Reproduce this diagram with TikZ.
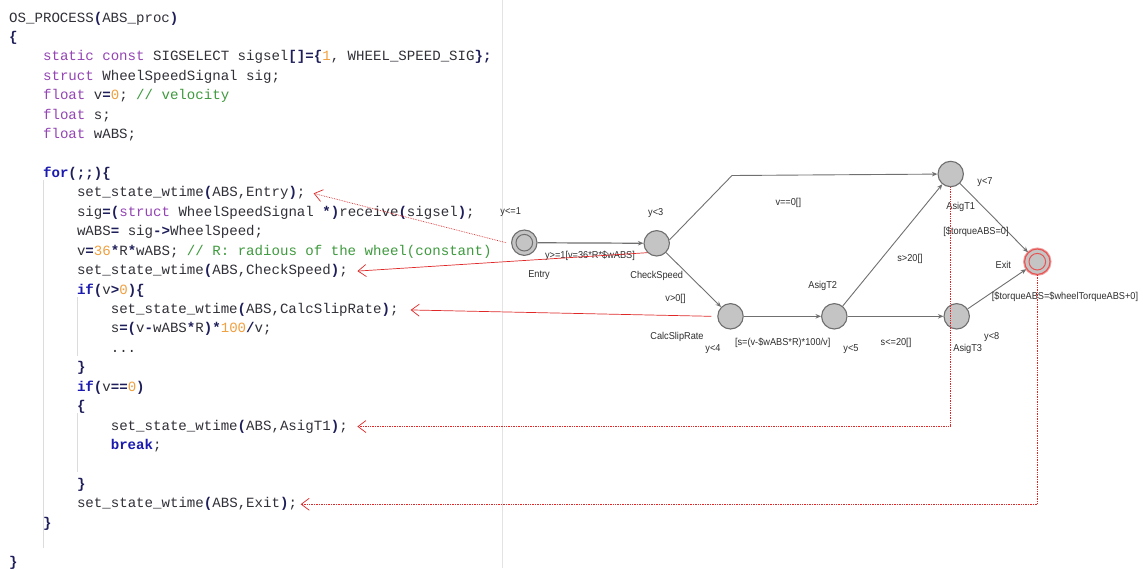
\documentclass[tikz,border=0pt]{standalone}
\usepackage{fontspec}
\setmainfont{Liberation Sans}
\newfontfamily\codefont{Liberation Mono}
\newfontfamily\lblfont[FakeStretch=0.92]{Liberation Sans}
\usetikzlibrary{arrows.meta}
\definecolor{kwc}{HTML}{9444B4}
\definecolor{ctc}{HTML}{1A1AB0}
\definecolor{numc}{HTML}{F0A040}
\definecolor{cmc}{HTML}{3E9A3E}
\definecolor{opc}{HTML}{1E1E5A}
\definecolor{idc}{HTML}{303038}
\definecolor{stfill}{HTML}{C4C4C4}
\definecolor{stdraw}{HTML}{6E6E6E}
\definecolor{edc}{HTML}{707070}
\definecolor{lblc}{HTML}{2E2E2E}
\definecolor{redc}{HTML}{E02828}
\definecolor{guide}{HTML}{DCDCDC}
\newcommand\ckw[1]{\textcolor{kwc}{#1}}
\newcommand\cct[1]{\textcolor{ctc}{\bfseries #1}}
\newcommand\cnum[1]{\textcolor{numc}{#1}}
\newcommand\ccom[1]{\textcolor{cmc}{#1}}
\newcommand\cop[1]{\textcolor{opc}{\bfseries #1}}
\newcommand\codeline[4]{\node[codest] (#1) at (#2,{22+19.43*#3}) {#4};}
\begin{document}
\begin{tikzpicture}[x=1pt,y=-1pt,
  codest/.style={anchor=base west,inner sep=0pt,text height=10pt,text depth=3pt,
    font=\codefont\fontsize{14.1}{17}\selectfont,text=idc},
  lbl/.style={font=\lblfont\fontsize{10}{12}\selectfont,text=lblc,inner sep=0pt},
  state/.style={circle,draw=stdraw,fill=stfill,line width=1.1pt,minimum size=25.4pt,inner sep=0pt},
  inring/.style={circle,draw=stdraw,line width=1pt,minimum size=16.6pt,inner sep=0pt},
  aedge/.style={draw=edc,line width=0.9pt,-{Stealth[length=5.5pt,width=4.5pt]}},
  redarr/.style={draw=redc,line width=0.7pt,-{Straight Barb[length=8pt,width=12pt]}},
  guideline/.style={draw=guide,line width=1pt}]
\useasboundingbox (0,0) rectangle (1143,568);
\fill[white] (0,0) rectangle (1143,568);
% separator and guide lines
\draw[draw=gray!22,line width=0.8pt] (502,0) -- (502,568);
\draw[guideline] (43,180) -- (43,548);
\draw[guideline] (77,297) -- (77,356);
\draw[guideline] (77,413) -- (77,472);
% code
\codeline{c0}{9}{0}{OS\_PROCESS\cop{(}ABS\_proc\cop{)}}
\codeline{c1}{9}{1}{\cop{\{}}
\codeline{c2}{42.9}{2}{\ckw{static const} SIGSELECT sigsel\cop{[]=\{}\cnum{1}, WHEEL\_SPEED\_SIG\cop{\};}}
\codeline{c3}{42.9}{3}{\ckw{struct} WheelSpeedSignal sig;}
\codeline{c4}{42.9}{4}{\ckw{float} v\cop{=}\cnum{0}; \ccom{// velocity}}
\codeline{c5}{42.9}{5}{\ckw{float} s;}
\codeline{c6}{42.9}{6}{\ckw{float} wABS;}
\codeline{c8}{42.9}{8}{\cct{for}\cop{(;;)\{}}
\codeline{c9}{76.8}{9}{set\_state\_wtime\cop{(}ABS,Entry\cop{)};}
\codeline{c10}{76.8}{10}{sig\cop{=(}\ckw{struct} WheelSpeedSignal \cop{*)}receive\cop{(}sigsel\cop{)};}
\codeline{c11}{76.8}{11}{wABS\cop{=} sig\cop{->}WheelSpeed;}
\codeline{c12}{76.8}{12}{v\cop{=}\cnum{36}\cop{*}R\cop{*}wABS; \ccom{// R: radious of the wheel(constant)}}
\codeline{c13}{76.8}{13}{set\_state\_wtime\cop{(}ABS,CheckSpeed\cop{)};}
\codeline{c14}{76.8}{14}{\cct{if}\cop{(}v\cop{>}\cnum{0}\cop{)\{}}
\codeline{c15}{110.6}{15}{set\_state\_wtime\cop{(}ABS,CalcSlipRate\cop{)};}
\codeline{c16}{110.6}{16}{s\cop{=(}v\cop{-}wABS\cop{*}R\cop{)*}\cnum{100}\cop{/}v;}
\codeline{c17}{110.6}{17}{...}
\codeline{c18}{76.8}{18}{\cop{\}}}
\codeline{c19}{76.8}{19}{\cct{if}\cop{(}v\cop{==}\cnum{0}\cop{)}}
\codeline{c20}{76.8}{20}{\cop{\{}}
\codeline{c21}{110.6}{21}{set\_state\_wtime\cop{(}ABS,AsigT1\cop{)};}
\codeline{c22}{110.6}{22}{\cct{break};}
\codeline{c24}{76.8}{24}{\cop{\}}}
\codeline{c25}{76.8}{25}{set\_state\_wtime\cop{(}ABS,Exit\cop{)};}
\codeline{c26}{42.9}{26}{\cop{\}}}
\codeline{c28}{9}{28}{\cop{\}}}
% states
\node[state] (entry) at (524.3,242.7) {};
\node[inring] (entryin) at (entry) {};
\node[state] (cs) at (656.7,243.3) {};
\node[state] (calc) at (730.5,316.3) {};
\node[state] (a2) at (834.3,316.3) {};
\node[state] (a3) at (956.7,316.3) {};
\node[state] (a1) at (950.7,174) {};
\node[circle,draw=redc!45,line width=3pt,minimum size=25.4pt,inner sep=0pt] (exitglow) at (1037.3,261.7) {};
\node[state,draw=redc!80] (exit) at (1037.3,261.7) {};
\node[inring,draw=redc!80] (exitin) at (exit) {};
\coordinate (bend) at (732,175.5);
% automaton edges
\draw[aedge,line width=1.2pt] (entry) -- (cs);
\draw[aedge] (cs.15) -- (bend) -- (a1);
\draw[aedge] (cs) -- (calc);
\draw[aedge] (calc) -- (a2);
\draw[aedge] (a2) -- (a1);
\draw[aedge] (a2) -- (a3);
\draw[aedge] (a1) -- (exit);
\draw[aedge] (a3) -- (exit);
% labels
\node[lbl] (le1) at (510.7,211.7) {y<=1};
\node[lbl] (le2) at (539,275) {Entry};
\node[lbl] (le3) at (590,256) {y>=1[v=36*R*\$wABS]};
\node[lbl] (lc1) at (655.7,212.7) {y<3};
\node[lbl] (lc2) at (656.7,275.7) {CheckSpeed};
\node[lbl] (lc3) at (675.5,299.3) {v>0[]};
\node[lbl] (lv0) at (788.3,202.7) {v==0[]};
\node[lbl] (ls1) at (677,336.7) {CalcSlipRate};
\node[lbl] (ls2) at (713,349.3) {y<4};
\node[lbl] (ls3) at (782.7,342.7) {[s=(v-\$wABS*R)*100/v]};
\node[lbl] (lt2a) at (822.7,285.7) {AsigT2};
\node[lbl] (lt2b) at (851,349.3) {y<5};
\node[lbl] (lt2c) at (910,259.3) {s>20[]};
\node[lbl] (lt2d) at (896,343.3) {s<=20[]};
\node[lbl] (lt1a) at (960.7,206.7) {AsigT1};
\node[lbl] (lt1b) at (985,181.7) {y<7};
\node[lbl] (lt1c) at (976,231.7) {[\$torqueABS=0]};
\node[lbl] (lt3a) at (967.7,349.3) {AsigT3};
\node[lbl] (lt3b) at (991.7,337.3) {y<8};
\node[lbl] (lx1) at (1003.3,265) {Exit};
\node[lbl] (lx2) at (1065,296.7) {[\$torqueABS=\$wheelTorqueABS+0]};
% red mapping arrows
\draw[redarr,densely dotted] ([xshift=-5pt]entry.west) -- ([xshift=8pt]c9.east);
\draw[redarr] (cs.south west) -- ([xshift=9.5pt]c13.east);
\draw[redarr] ([xshift=-6pt]calc.west) -- ([xshift=12pt]c15.east);
\draw[redarr,densely dotted] (a1.south) |- ([xshift=9.5pt]c21.east);
\draw[redarr,densely dotted] (exit.south) |- ([xshift=3.5pt]c25.east);
\end{tikzpicture}
\end{document}
